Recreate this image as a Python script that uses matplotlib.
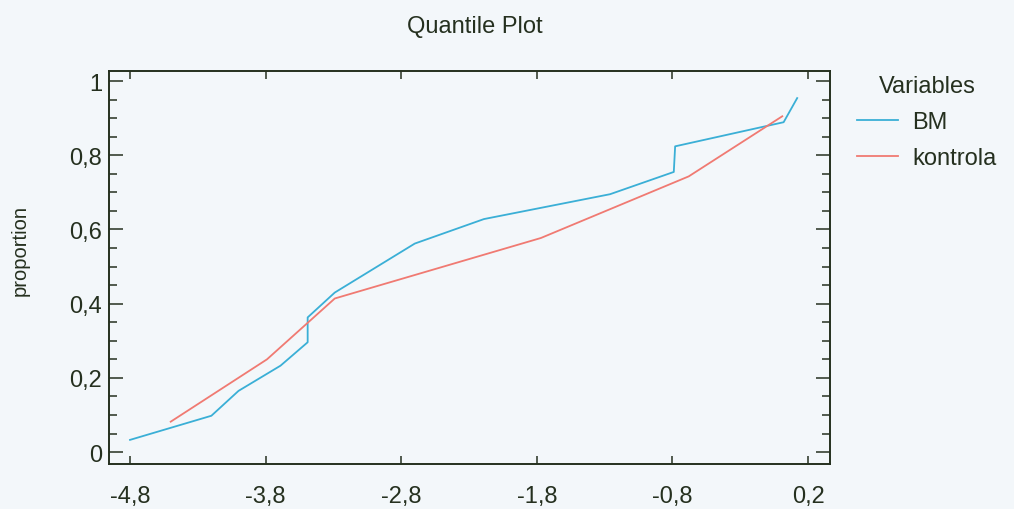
import matplotlib
matplotlib.use("Agg")
import matplotlib.pyplot as plt
from matplotlib.ticker import FuncFormatter, MultipleLocator

# values
bm_x = [-4.80, -4.20, -4.00, -3.69, -3.49, -3.49, -3.29, -2.70, -2.19, -1.26, -0.79, -0.78, 0.02, 0.12]
bm_y = [0.033, 0.098, 0.165, 0.233, 0.296, 0.363, 0.430, 0.562, 0.628, 0.695, 0.755, 0.824, 0.889, 0.954]
kon_x = [-4.50, -3.79, -3.29, -1.77, -0.68, 0.01]
kon_y = [0.082, 0.250, 0.414, 0.577, 0.743, 0.905]
x_ticks = [-4.8, -3.8, -2.8, -1.8, -0.8, 0.2]
y_ticks = [0, 0.2, 0.4, 0.6, 0.8, 1.0]

bg = "#f3f7fa"
ink = "#25301f"
blue = "#3aafd6"
red = "#f07a72"

plt.rcParams["font.family"] = ["Liberation Sans", "DejaVu Sans"]

fig = plt.figure(figsize=(10.14, 5.10), dpi=100, facecolor=bg)
ax = fig.add_axes([109 / 1014, 1 - 465 / 510, (830 - 109) / 1014, (465 - 72) / 510])
ax.set_facecolor(bg)

ax.plot(bm_x, bm_y, color=blue, lw=1.3, label="BM")
ax.plot(kon_x, kon_y, color=red, lw=1.3, label="kontrola")

ax.set_xlim(-4.955, 0.362)
ax.set_ylim(-0.032, 1.027)
ax.set_xticks(x_ticks)
ax.set_yticks(y_ticks)
ax.yaxis.set_minor_locator(MultipleLocator(0.05))

fmt = FuncFormatter(lambda v, p: "{:g}".format(round(v, 1)).replace(".", ","))
ax.xaxis.set_major_formatter(fmt)
ax.yaxis.set_major_formatter(fmt)

for s in ax.spines.values():
    s.set_color(ink)
    s.set_linewidth(1.4)

ax.tick_params(axis="x", which="major", direction="in", top=True, length=6, width=1.1,
               color=ink, labelcolor=ink, labelsize=17, pad=15)
ax.tick_params(axis="y", which="major", direction="in", right=True, length=10, width=1.1,
               color=ink, labelcolor=ink, labelsize=17, pad=5)
ax.tick_params(axis="y", which="minor", direction="in", right=True, length=6, width=1.1, color=ink)

ax.set_title("Quantile Plot", fontsize=17, color=ink, x=(475 - 109) / (830 - 109), pad=28)
fig.text(20 / 1014, 1 - 250 / 510, "proportion", rotation=90, fontsize=14.5, color=ink,
         ha="center", va="center")

leg = ax.legend(title="Variables", loc="upper left", frameon=False, fontsize=17, title_fontsize=17,
                bbox_to_anchor=(857 / 1014, 1 - 76 / 510), bbox_transform=fig.transFigure,
                handlelength=1.75, handletextpad=0.6, labelspacing=0.6, borderpad=0, borderaxespad=0)
for t in leg.get_texts():
    t.set_color(ink)
leg.get_title().set_color(ink)

fig.savefig("out.png", dpi=100, facecolor=bg)
